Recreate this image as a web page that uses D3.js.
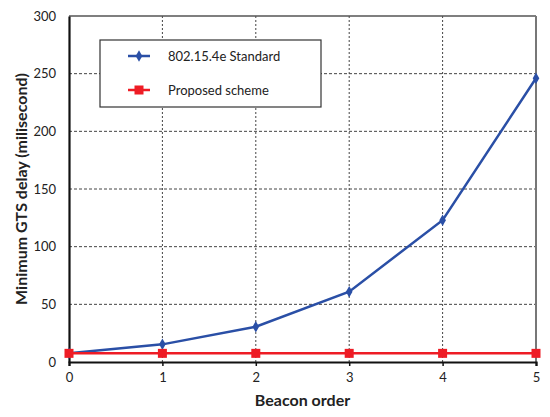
<!DOCTYPE html>
<html>
<head>
<meta charset="utf-8">
<script src="https://cdn.jsdelivr.net/npm/d3@7"></script>
<style>
  body { margin: 0; background: #fff; }
  text { font-family: Lato, "Open Sans", sans-serif; }
</style>
</head>
<body>
<div id="chart"></div>
<script>
// data
var beaconOrder = [0, 1, 2, 3, 4, 5];
var standardDelay = [7.5, 15.3, 30.6, 61, 123, 246];
var proposedDelay = [7.5, 7.5, 7.5, 7.5, 7.5, 7.5];
var yTicks = [0, 50, 100, 150, 200, 250, 300];
var seriesNames = ["802.15.4e Standard", "Proposed scheme"];

var W = 550, H = 417;
var margin = {top: 16, left: 69, right: 14, bottom: 55};
var width = W - margin.left - margin.right;
var height = H - margin.top - margin.bottom;

var svg = d3.select("#chart").append("svg")
    .attr("width", W).attr("height", H);
var g = svg.append("g")
    .attr("transform", "translate(" + margin.left + "," + margin.top + ")");

var x = d3.scaleLinear().domain([0, 5]).range([0, width]);
var y = d3.scaleLinear().domain([0, 300]).range([height, 0]);

// grid
g.selectAll(".hgrid").data(yTicks.slice(1, -1)).enter().append("line")
    .attr("x1", 0).attr("x2", width)
    .attr("y1", d => y(d)).attr("y2", d => y(d))
    .style("stroke", "#444").style("stroke-width", 1).style("stroke-dasharray", "3,2");
g.selectAll(".vgrid").data(beaconOrder.slice(1, -1)).enter().append("line")
    .attr("x1", d => x(d)).attr("x2", d => x(d))
    .attr("y1", 0).attr("y2", height)
    .style("stroke", "#444").style("stroke-width", 1).style("stroke-dasharray", "2,2");

// top and right frame
g.append("line").attr("x1", 0).attr("x2", width).attr("y1", 0).attr("y2", 0)
    .style("stroke", "#555").style("stroke-width", 1.5);
g.append("line").attr("x1", width).attr("x2", width).attr("y1", 0).attr("y2", height)
    .style("stroke", "#777").style("stroke-width", 2);

// axes
var xAxis = g.append("g").attr("transform", "translate(0," + height + ")")
    .call(d3.axisBottom(x).tickValues(beaconOrder).tickFormat(d3.format("d")).tickSizeOuter(0).tickSize(4).tickPadding(7));
var yAxis = g.append("g")
    .call(d3.axisLeft(y).tickValues(yTicks).tickSize(0).tickPadding(13));
[xAxis, yAxis].forEach(function(a) {
    a.select(".domain").style("stroke", "#111").style("stroke-width", 2.2);
    a.selectAll(".tick line").style("stroke", "#111").style("stroke-width", 1.5);
    a.selectAll("text").style("font-size", "13px").style("fill", "#222")
        .style("font-family", "Lato, 'Open Sans', sans-serif");
});

// lines
var line = d3.line().x((d, i) => x(beaconOrder[i])).y(d => y(d));
g.append("path").datum(standardDelay).attr("d", line)
    .style("fill", "none").style("stroke", "#2a4fa6").style("stroke-width", 2.5);
g.append("path").datum(proposedDelay).attr("d", line)
    .style("fill", "none").style("stroke", "#ee1c25").style("stroke-width", 2.5);

var diamond = d3.symbol().type(d3.symbolDiamond).size(38);
g.selectAll(".dia").data(standardDelay).enter().append("path")
    .attr("d", diamond)
    .attr("transform", (d, i) => "translate(" + x(beaconOrder[i]) + "," + y(d) + ")")
    .style("fill", "#2a4fa6");
g.selectAll(".sq").data(proposedDelay).enter().append("rect")
    .attr("x", (d, i) => x(beaconOrder[i]) - 4.5).attr("y", d => y(d) - 4.5)
    .attr("width", 9).attr("height", 9)
    .style("fill", "#ee1c25");

// legend
var leg = svg.append("g").attr("transform", "translate(100,40)");
leg.append("rect").attr("width", 221).attr("height", 67)
    .style("fill", "#fff").style("stroke", "#333").style("stroke-width", 1.2);
var legColors = ["#2a4fa6", "#ee1c25"];
seriesNames.forEach(function(name, i) {
    var ly = 16 + i * 34;
    leg.append("line").attr("x1", 28).attr("x2", 50).attr("y1", ly).attr("y2", ly)
        .style("stroke", legColors[i]).style("stroke-width", 2.5);
    if (i === 0) {
        leg.append("path").attr("d", diamond).attr("transform", "translate(39," + ly + ")")
            .style("fill", legColors[i]);
    } else {
        leg.append("rect").attr("x", 34.5).attr("y", ly - 4.5).attr("width", 9).attr("height", 9)
            .style("fill", legColors[i]);
    }
    leg.append("text").attr("x", 68).attr("y", ly).attr("dy", "0.35em")
        .style("font-size", "13px").style("fill", "#222").text(name);
});

// axis titles
svg.append("text")
    .attr("x", margin.left + width / 2).attr("y", 406)
    .attr("text-anchor", "middle")
    .style("font-size", "16px").style("font-weight", "bold").style("fill", "#222")
    .text("Beacon order");
svg.append("text")
    .attr("transform", "translate(27," + (margin.top + height / 2) + ") rotate(-90)")
    .attr("text-anchor", "middle")
    .style("font-size", "16px").style("font-weight", "bold").style("fill", "#222")
    .text("Minimum GTS delay (milisecond)");
</script>
</body>
</html>
